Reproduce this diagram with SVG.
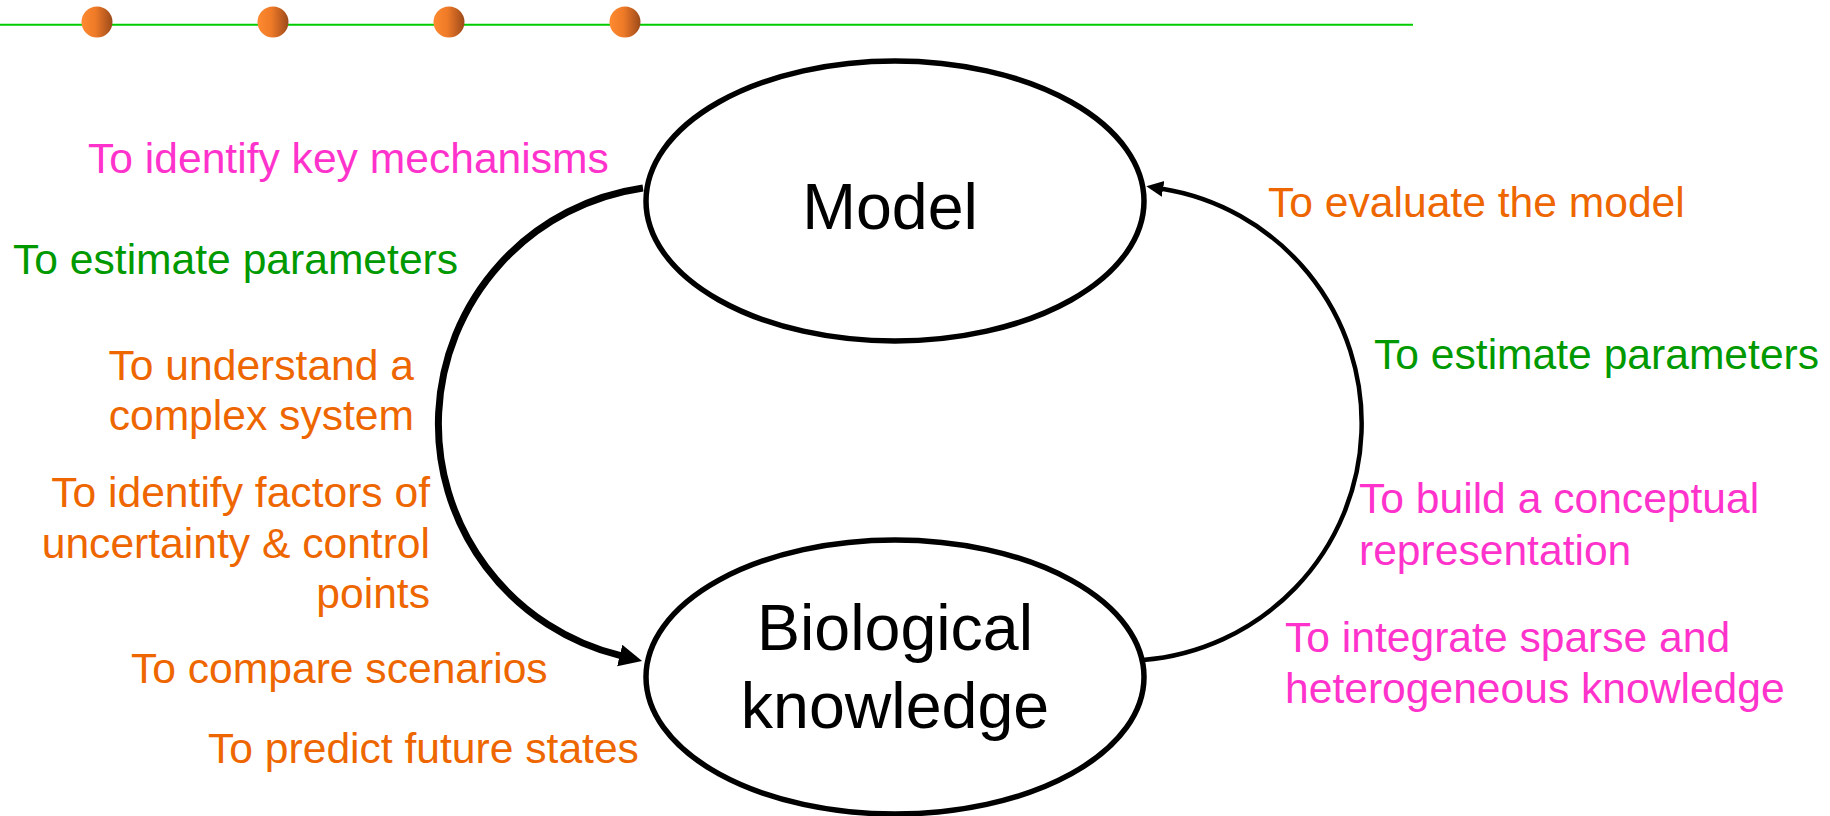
<svg xmlns="http://www.w3.org/2000/svg" width="1830" height="816" viewBox="0 0 1830 816">
  <style>
    text { font-family: "Liberation Sans", Arial, sans-serif; }
    .lbl { font-size: 42.6px; }
    .mag { fill: #FF33CC; }
    .grn { fill: #009900; }
    .org { fill: #EE6600; }
    .node { fill: #FFFFFF; stroke: #000000; stroke-width: 5.5; }
    .ntxt { font-size: 64.5px; fill: #000000; text-anchor: middle; }
    .end { text-anchor: end; }
    .dot { fill: url(#dotGrad); }
  </style>
  <defs>
    <linearGradient id="dotGrad" x1="0" y1="0" x2="1" y2="0">
      <stop offset="0" stop-color="#FF8A30"/>
      <stop offset="0.45" stop-color="#EE7A28"/>
      <stop offset="1" stop-color="#9C4A1A"/>
    </linearGradient>
    <marker id="arrowBig" markerUnits="userSpaceOnUse" markerWidth="26" markerHeight="24" refX="1" refY="11" orient="auto">
      <path d="M0,0 L23,11 L0,22 z" fill="#000000"/>
    </marker>
    <marker id="arrowSmall" markerUnits="userSpaceOnUse" markerWidth="20" markerHeight="18" refX="1" refY="8" orient="auto">
      <path d="M0,0 L17,8 L0,16 z" fill="#000000"/>
    </marker>
  </defs>

  <g id="header">
    <line x1="0" y1="24.7" x2="1413" y2="24.7" stroke="#00CC00" stroke-width="2"/>
    <circle class="dot" cx="97" cy="22" r="15.5"/>
    <circle class="dot" cx="273" cy="22" r="15.5"/>
    <circle class="dot" cx="449" cy="22" r="15.5"/>
    <circle class="dot" cx="625" cy="22" r="15.5"/>
  </g>

  <g id="connectors" fill="none" stroke="#000000">
    <path id="edge-model-bio" d="M 643 188 A 238.4 238.4 0 0 0 620.7 655.7" stroke-width="7" marker-end="url(#arrowBig)"/>
    <path id="edge-bio-model" d="M 1143 660 A 237.5 237.5 0 0 0 1162.1 188.8" stroke-width="4.5" marker-end="url(#arrowSmall)"/>
  </g>

  <g id="node-model">
    <ellipse class="node" cx="895" cy="201" rx="249" ry="140"/>
    <text class="ntxt" x="890" y="229">Model</text>
  </g>

  <g id="node-bio">
    <ellipse class="node" cx="895" cy="677" rx="249" ry="137"/>
    <text class="ntxt" x="895" y="649.5">Biological</text>
    <text class="ntxt" x="895" y="727.7">knowledge</text>
  </g>

  <g id="labels-left" class="lbl">
    <text class="mag" x="88" y="173">To identify key mechanisms</text>
    <text class="grn" x="13" y="274">To estimate parameters</text>
    <text class="org end" x="414" y="380">To understand a</text>
    <text class="org end" x="414" y="430">complex system</text>
    <text class="org end" x="430" y="507">To identify factors of</text>
    <text class="org end" x="430" y="558">uncertainty &amp; control</text>
    <text class="org end" x="430" y="608">points</text>
    <text class="org" x="131" y="683">To compare scenarios</text>
    <text class="org" x="208" y="763">To predict future states</text>
  </g>

  <g id="labels-right" class="lbl">
    <text class="org" x="1268" y="217">To evaluate the model</text>
    <text class="grn" x="1374" y="369">To estimate parameters</text>
    <text class="mag" x="1359" y="513">To build a conceptual</text>
    <text class="mag" x="1359" y="565">representation</text>
    <text class="mag" x="1285" y="652">To integrate sparse and</text>
    <text class="mag" x="1285" y="703">heterogeneous knowledge</text>
  </g>
</svg>
